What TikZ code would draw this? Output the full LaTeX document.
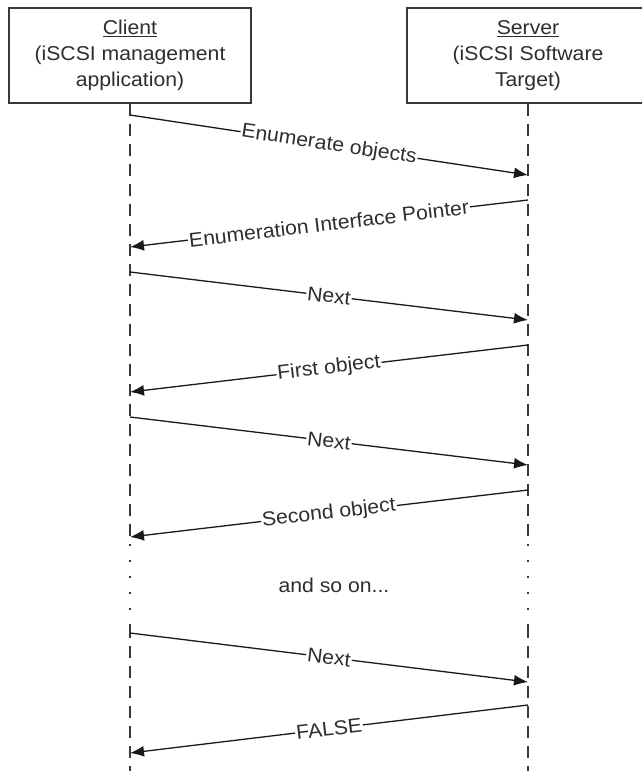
\documentclass[tikz,border=0pt]{standalone}
\usepackage{fontspec}
\setmainfont{Liberation Sans}[FakeStretch=1.06]
\usetikzlibrary{arrows.meta}

\definecolor{ink}{gray}{0.18}
\definecolor{rule}{gray}{0.22}

\tikzset{
  actor/.style={draw=rule, line width=1.4pt, fill=white, minimum width=242pt,
    minimum height=95pt, align=center, inner sep=0pt, text=ink,
    font=\fontsize{20}{26}\selectfont},
  lifeline/.style={draw=rule, line width=1.4pt, dash pattern=on 12pt off 8pt},
  gapdots/.style={draw=rule, line width=1.4pt, dash pattern=on 2pt off 14pt},
  msg/.style={draw=black!90, line width=1.3pt,
    -{Latex[length=14pt,width=11pt]}},
  lbl/.style={fill=white, inner sep=1pt, sloped, pos=0.5, text=ink,
    font=\fontsize{20}{24}\selectfont},
  note/.style={text=ink, font=\fontsize{20}{24}\selectfont, inner sep=0pt}
}

\begin{document}
\begin{tikzpicture}[x=1pt, y=-1pt]
\useasboundingbox (0,0) rectangle (642,771);
\clip (0,0) rectangle (642,771);
\fill[white] (0,0) rectangle (642,771);

% lifelines (drawn first, boxes cover their tops)
\coordinate (cbot) at (130,771);
\coordinate (sbot) at (528,771);
\coordinate (cgap1) at (130,540);
\coordinate (cgap2) at (130,626);
\coordinate (sgap1) at (528,540);
\coordinate (sgap2) at (528,626);

% participants
\node[actor] (client) at (130,55.5) {\underline{Client}\\(iSCSI management\\application)};
\node[actor] (server) at (528,55.5) {\underline{Server}\\(iSCSI Software\\Target)};

\draw[lifeline] (client.south) -- (cgap1);
\draw[gapdots] ([yshift=-4pt]cgap1) -- (cgap2);
\draw[lifeline] (cgap2) -- (cbot);
\draw[lifeline] (server.south) -- (sgap1);
\draw[gapdots] ([yshift=-4pt]sgap1) -- (sgap2);
\draw[lifeline] (sgap2) -- (sbot);

% message end points on the lifelines
\coordinate (c1) at (130,115);  \coordinate (s1) at (528,175);
\coordinate (s2) at (528,200);  \coordinate (c2) at (130,247);
\coordinate (c3) at (130,272);  \coordinate (s3) at (528,320);
\coordinate (s4) at (528,345);  \coordinate (c4) at (130,392);
\coordinate (c5) at (130,417);  \coordinate (s5) at (528,465);
\coordinate (s6) at (528,490);  \coordinate (c6) at (130,537);
\coordinate (c7) at (130,633);  \coordinate (s7) at (528,682);
\coordinate (s8) at (528,705);  \coordinate (c8) at (130,753);

% short solid drop from the client box to the first message
\draw[draw=rule, line width=1.4pt] (client.south) -- (c1);

% messages
\draw[msg] (c1) -- node[lbl] {Enumerate objects} (s1);
\draw[msg] (s2) -- node[lbl] {Enumeration Interface Pointer} (c2);
\draw[msg] (c3) -- node[lbl] {Next} (s3);
\draw[msg] (s4) -- node[lbl] {First object} (c4);
\draw[msg] (c5) -- node[lbl] {Next} (s5);
\draw[msg] (s6) -- node[lbl] {Second object} (c6);
\draw[msg] (c7) -- node[lbl] {Next} (s7);
\draw[msg] (s8) -- node[lbl] {FALSE} (c8);

\node[note, anchor=base] (more) at (334,592) {and so on...};
\end{tikzpicture}
\end{document}
